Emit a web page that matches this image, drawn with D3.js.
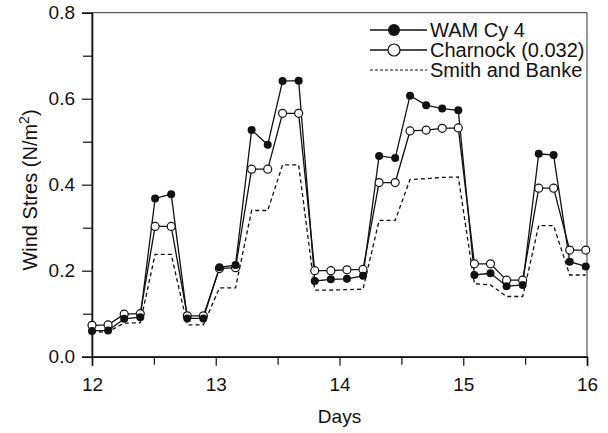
<!DOCTYPE html>
<html><head><meta charset="utf-8">
<script src="https://cdn.jsdelivr.net/npm/d3@7"></script>
<style>body{margin:0;background:#fff}svg{display:block}text{font-family:"Liberation Sans",Arial,sans-serif;fill:#111}</style>
</head><body><svg id="c" width="608" height="433"></svg>
<script>
const days = [12.00,12.13,12.26,12.39,12.51,12.64,12.77,12.90,13.03,13.16,13.29,13.42,13.54,13.67,13.80,13.93,14.06,14.19,14.32,14.45,14.57,14.70,14.83,14.96,15.09,15.22,15.35,15.48,15.61,15.73,15.86,15.99];
const wam = [0.060,0.061,0.088,0.092,0.368,0.378,0.089,0.089,0.208,0.213,0.527,0.493,0.641,0.642,0.176,0.180,0.181,0.188,0.467,0.462,0.607,0.585,0.577,0.573,0.190,0.194,0.164,0.167,0.472,0.469,0.221,0.210];
const charnock = [0.073,0.074,0.099,0.100,0.303,0.303,0.095,0.095,0.205,0.207,0.436,0.436,0.566,0.566,0.200,0.200,0.202,0.203,0.405,0.405,0.525,0.527,0.531,0.532,0.216,0.216,0.178,0.178,0.392,0.392,0.248,0.248];
const smith = [0.057,0.058,0.078,0.079,0.238,0.238,0.074,0.074,0.160,0.160,0.340,0.340,0.446,0.446,0.155,0.155,0.156,0.157,0.317,0.317,0.412,0.414,0.417,0.418,0.170,0.167,0.140,0.140,0.305,0.305,0.190,0.190];
const xTicks = [12,13,14,15,16];
const xMinor = [12.5,13.5,14.5,15.5];
const yTicks = [0.0,0.2,0.4,0.6,0.8];
const yMinor = [0.1,0.3,0.5,0.7];
const legendNames = ["WAM Cy 4","Charnock (0.032)","Smith and Banke"];

const svg = d3.select("#c");
const L=92, R=587, T=12.7, B=356.7;
const x = d3.scaleLinear().domain([12,16]).range([L,R]);
const y = d3.scaleLinear().domain([0,0.8]).range([B,T]);

// frame
svg.append("rect").attr("x",L).attr("y",T).attr("width",R-L).attr("height",B-T)
  .attr("fill","none").attr("stroke","#333").attr("stroke-width",1);

svg.append("g").attr("transform",`translate(0,${B})`)
  .call(d3.axisBottom(x).tickValues(xTicks).tickFormat(d3.format("d")).tickSize(9).tickPadding(12));
svg.append("g").attr("transform",`translate(0,${B})`)
  .call(d3.axisBottom(x).tickValues(xMinor).tickFormat("").tickSize(8))
  .select(".domain").remove();
svg.append("g").attr("transform",`translate(${L},0)`)
  .call(d3.axisLeft(y).tickValues(yTicks).tickFormat(d3.format(".1f")).tickSize(10).tickPadding(7));
svg.append("g").attr("transform",`translate(${L},0)`)
  .call(d3.axisLeft(y).tickValues(yMinor).tickFormat("").tickSize(9))
  .select(".domain").remove();
svg.selectAll(".domain").attr("stroke","#111").attr("stroke-width",1.6);
svg.selectAll(".tick line").attr("stroke","#111").attr("stroke-width",1.2);
svg.selectAll(".tick text").style("font-size","19px").attr("fill","#111")
  .style("font-family",'"Liberation Sans",Arial,sans-serif');

svg.append("text").attr("x",339.5).attr("y",423).attr("text-anchor","middle")
  .style("font-size","19px").text("Days");
const yl = svg.append("text").attr("transform",`translate(37,190) rotate(-90)`)
  .attr("text-anchor","middle").style("font-size","20px");
yl.append("tspan").text("Wind Stres (N/m");
yl.append("tspan").attr("dy",-8).style("font-size","14px").text("2");
yl.append("tspan").attr("dy",8).text(")");

const line = d3.line().x((d,i)=>x(days[i])).y(d=>y(d));
svg.append("path").datum(smith).attr("d",line).attr("fill","none")
  .attr("stroke","#111").attr("stroke-width",1.3).attr("stroke-dasharray","4,3");
svg.append("path").datum(charnock).attr("d",line).attr("fill","none")
  .attr("stroke","#111").attr("stroke-width",1.3);
svg.append("path").datum(wam).attr("d",line).attr("fill","none")
  .attr("stroke","#111").attr("stroke-width",1.3);
svg.append("g").selectAll("circle").data(charnock).join("circle")
  .attr("cx",(d,i)=>x(days[i])).attr("cy",d=>y(d)).attr("r",4)
  .attr("fill","#fff").attr("stroke","#111").attr("stroke-width",1.2);
svg.append("g").selectAll("circle").data(wam).join("circle")
  .attr("cx",(d,i)=>x(days[i])).attr("cy",d=>y(d)).attr("r",4)
  .attr("fill","#111");

// legend
const lg = svg.append("g");
const ly = [30,50,70];
legendNames.forEach((n,i)=>{
  const l = lg.append("line").attr("x1",370).attr("x2",427).attr("y1",ly[i]).attr("y2",ly[i])
    .attr("stroke","#111").attr("stroke-width",i==2?1:1.3);
  if(i==2) l.attr("stroke-dasharray","3,2");
  if(i==0) lg.append("circle").attr("cx",394).attr("cy",ly[i]).attr("r",6).attr("fill","#111");
  if(i==1) lg.append("circle").attr("cx",394).attr("cy",ly[i]).attr("r",6).attr("fill","#fff").attr("stroke","#111").attr("stroke-width",1.2);
  lg.append("text").attr("x",430).attr("y",ly[i]+6.5).style("font-size","20px").text(n);
});
</script></body></html>
